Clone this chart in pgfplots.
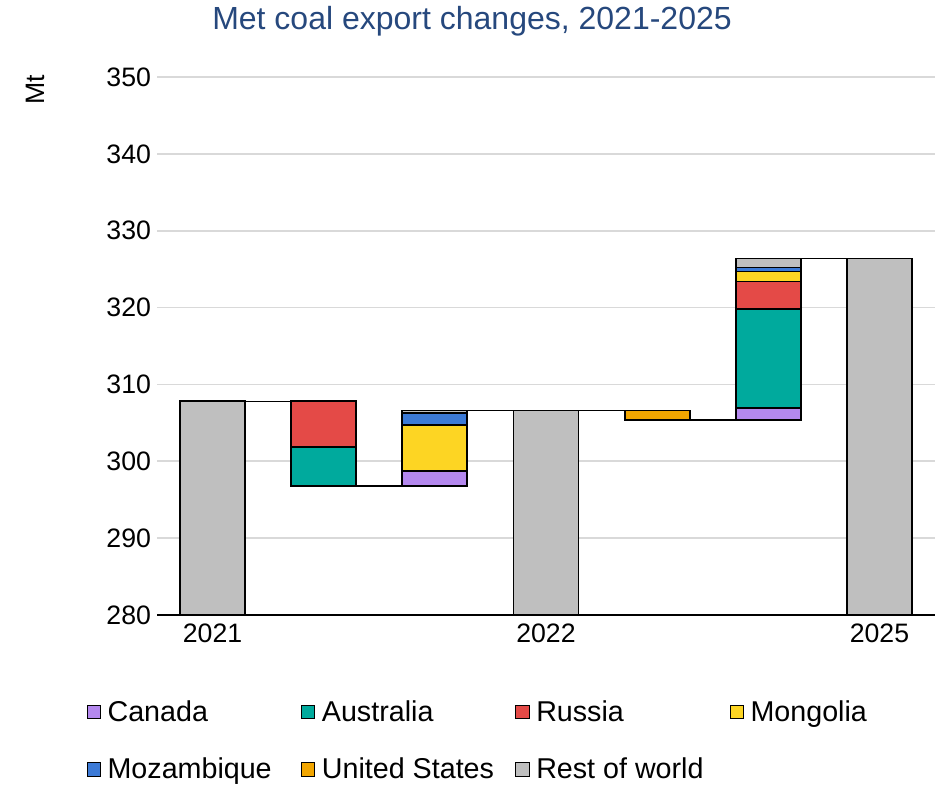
\documentclass[border=0pt]{standalone}
\usepackage{fontspec}
\setmainfont{Liberation Sans}
\usepackage{pgfplots}
\usepackage{pgfplotstable}
\pgfplotsset{compat=1.18}
\definecolor{cCan}{RGB}{180,136,238}
\definecolor{cAus}{RGB}{0,170,157}
\definecolor{cRus}{RGB}{228,74,71}
\definecolor{cMon}{RGB}{253,213,35}
\definecolor{cMoz}{RGB}{60,122,214}
\definecolor{cUS}{RGB}{242,166,0}
\definecolor{cRow}{RGB}{191,191,191}
\definecolor{gridgray}{RGB}{217,217,217}
\definecolor{titleblue}{RGB}{38,72,125}
\pgfplotstableread{
x base can aus rus mon moz us row
0 280 0 0 0 0 0 0 27.8
1 296.8 0 5.1 5.9 0 0 0 0
2 296.8 1.9 0 0 6.0 1.6 0 0.3
3 280 0 0 0 0 0 0 26.6
4 305.4 0 0 0 0 0 1.2 0
5 305.4 1.5 12.9 3.6 1.3 0.5 0 1.2
6 280 0 0 0 0 0 0 46.4
}\data
\newcommand\bigfont{\fontsize{20}{24}\selectfont}
\newcommand\legfont{\fontsize{21.5}{25}\selectfont}
\begin{document}
\begin{tikzpicture}
\useasboundingbox (-117.75pt,-129pt) rectangle (590.25pt,461.25pt);
\begin{axis}[at={(0,0)},anchor=south west,scale only axis,width=583.5pt,height=403.5pt,
  xmin=-0.5,xmax=6.5,ymin=280,ymax=350,ytick={280,290,...,350},xtick=\empty,
  yticklabel={\relax},ymajorgrids,grid style={line width=1.2pt,color=gridgray},
  axis line style={draw=none},major tick length=0]
\addplot[black,line width=1.1pt] coordinates {(0,307.8) (1,307.8)};
\addplot[black,line width=1.1pt] coordinates {(1,296.8) (2,296.8)};
\addplot[black,line width=1.1pt] coordinates {(2,306.6) (4,306.6)};
\addplot[black,line width=1.1pt] coordinates {(4,305.4) (5,305.4)};
\addplot[black,line width=1.1pt] coordinates {(5,326.4) (6,326.4)};
\end{axis}
\begin{axis}[name=main,at={(0,0)},anchor=south west,scale only axis,width=583.5pt,height=403.5pt,
  xmin=-0.5,xmax=6.5,ymin=280,ymax=350,ytick={280,290,...,350},
  xtick={0,3,6},xticklabels={2021,2022,2025},
  ybar stacked,bar width=48.75pt,
  axis x line*=bottom,axis y line*=left,
  x axis line style={line width=1.5pt,-},y axis line style={draw=none},
  major tick length=0,axis on top,
  tick label style={font=\bigfont},
  /pgf/number format/assume math mode=true,
  yticklabel style={xshift=-1pt},
  xticklabel style={yshift=-3pt},
  sq/.style={legend image code/.code={\draw[##1,draw=black,line width=0.75pt] (0pt,-5pt) rectangle (10pt,5pt);}},
  legend columns=4,
  legend style={draw=none,fill=none,at={(rel axis cs:0,0)},anchor=north west,
    xshift=-56pt,yshift=-60pt,font=\legfont,row sep=22pt,
    /tikz/every odd column/.append style={column sep=3pt},
    /tikz/every even column/.append style={column sep=3pt}},
  ]
\addplot[draw=none,fill=none,forget plot] table[x=x,y=base]{\data};
\addplot[fill=cCan,draw=black,line width=1.3pt,sq] table[x=x,y=can]{\data};
\addlegendentry{\makebox[140pt][l]{Canada}}
\addplot[fill=cAus,draw=black,line width=1.3pt,sq] table[x=x,y=aus]{\data};
\addlegendentry{\makebox[140pt][l]{Australia}}
\addplot[fill=cRus,draw=black,line width=1.3pt,sq] table[x=x,y=rus]{\data};
\addlegendentry{\makebox[140pt][l]{Russia}}
\addplot[fill=cMon,draw=black,line width=1.3pt,sq] table[x=x,y=mon]{\data};
\addlegendentry{\makebox[140pt][l]{Mongolia}}
\addplot[fill=cMoz,draw=black,line width=1.3pt,sq] table[x=x,y=moz]{\data};
\addlegendentry{\makebox[140pt][l]{Mozambique}}
\addplot[fill=cUS,draw=black,line width=1.3pt,sq] table[x=x,y=us]{\data};
\addlegendentry{\makebox[140pt][l]{United States}}
\addplot[fill=cRow,draw=black,line width=1.3pt,sq] table[x=x,y=row]{\data};
\addlegendentry{\makebox[140pt][l]{Rest of world}}
\end{axis}
\node[rotate=90,font=\bigfont] at ([xshift=-91.5pt,yshift=-9.75pt]main.north west) {Mt};
\node[font=\fontsize{24}{28}\selectfont,text=titleblue] at ([xshift=236.25pt,yshift=42pt]main.north west) {Met coal export changes, 2021-2025};
\end{tikzpicture}
\end{document}
